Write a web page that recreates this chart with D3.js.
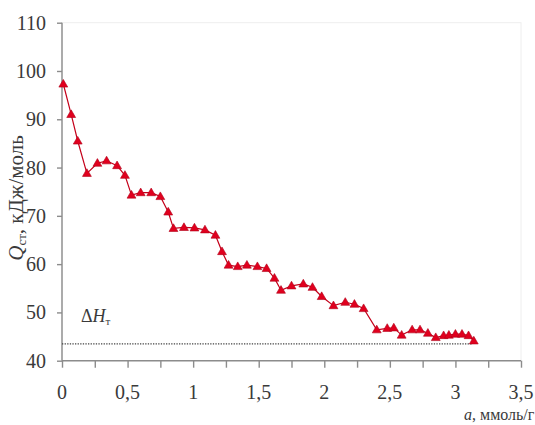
<!DOCTYPE html>
<html><head><meta charset="utf-8">
<script src="https://cdn.jsdelivr.net/npm/d3@7"></script>
<style>body{margin:0;background:#fff}svg{display:block}</style>
</head><body>
<svg id="c" width="535" height="425"></svg>
<script>
const aVals = [0.01,0.07,0.12,0.19,0.27,0.34,0.42,0.48,0.53,0.60,0.68,0.75,0.81,0.85,0.93,1.01,1.09,1.17,1.22,1.27,1.34,1.41,1.49,1.56,1.62,1.67,1.75,1.84,1.91,1.98,2.07,2.16,2.23,2.30,2.40,2.48,2.53,2.59,2.67,2.73,2.79,2.85,2.91,2.95,3.00,3.05,3.10,3.14];
const qVals = [97.3,91.0,85.5,78.8,80.9,81.4,80.4,78.4,74.3,74.8,74.8,74.0,70.8,67.4,67.6,67.5,67.1,66.0,62.6,59.8,59.5,59.8,59.5,59.1,57.1,54.6,55.5,55.9,55.2,53.3,51.4,52.1,51.7,50.8,46.4,46.7,46.8,45.3,46.4,46.4,45.7,44.8,45.2,45.3,45.5,45.5,45.2,44.1];
const xTicks = [0,0.25,0.5,0.75,1,1.25,1.5,1.75,2,2.25,2.5,2.75,3,3.25,3.5];
const xLabels = [0,0.5,1,1.5,2,2.5,3,3.5];
const yTicks = [40,50,60,70,80,90,100,110];
const dH = 43.5;
const dHRange = [0, 3.13];

const svg = d3.select("#c");
const L = 62, R = 521, T = 22.7, B = 360.7;
const x = d3.scaleLinear().domain([0,3.5]).range([L,R]);
const y = d3.scaleLinear().domain([40,110]).range([B,T]);
const fmt = d => String(d).replace(".", ",");
const axisCol = "#8c8c8c", txtCol = "#3a3a3a";
const serif = "Liberation Serif, DejaVu Serif, serif";

svg.append("rect").attr("x",L).attr("y",T).attr("width",R-L).attr("height",B-T)
  .attr("fill","none").attr("stroke","#eeeeee").attr("stroke-width",1);

const gx = svg.append("g").attr("transform",`translate(0,${B})`)
  .call(d3.axisBottom(x).tickValues(xTicks).tickSize(7).tickFormat(""));
gx.selectAll("path,line").attr("stroke",axisCol).attr("stroke-width",1.4);
gx.select(".domain").attr("d",`M${L},0H${R}`);
svg.append("g").selectAll("text").data(xLabels).join("text")
  .attr("x",d=>x(d)).attr("y",399).attr("text-anchor","middle")
  .style("font-family",serif).attr("font-size",20).attr("fill",txtCol).text(fmt);

const gy = svg.append("g").attr("transform",`translate(${L},0)`)
  .call(d3.axisLeft(y).tickValues(yTicks).tickSize(5).tickFormat(""));
gy.selectAll("path,line").attr("stroke",axisCol).attr("stroke-width",1.4);
gy.select(".domain").attr("d",`M0,${T}V${B}`);
svg.append("g").selectAll("text").data(yTicks).join("text")
  .attr("x",46).attr("y",d=>y(d)).attr("dy","0.35em").attr("text-anchor","end")
  .style("font-family",serif).attr("font-size",20).attr("fill",txtCol).text(d=>d);

svg.append("line").attr("x1",x(dHRange[0])).attr("x2",x(dHRange[1]))
  .attr("y1",y(dH)).attr("y2",y(dH))
  .attr("stroke","#444").attr("stroke-width",1.3).attr("stroke-dasharray","1.3,1.3");
const dt = svg.append("text").attr("x",81).attr("y",322)
  .style("font-family",serif).attr("font-size",18).attr("fill",txtCol);
dt.append("tspan").text("Δ");
dt.append("tspan").attr("font-style","italic").text("H");
dt.append("tspan").attr("font-size",11).attr("dy",3).text("т");

const pts = aVals.map((a,i)=>[a,qVals[i]]);
svg.append("path").datum(pts)
  .attr("d",d3.line().x(d=>x(d[0])).y(d=>y(d[1])))
  .attr("fill","none").attr("stroke","#c4001a").attr("stroke-width",1.2);
svg.append("g").selectAll("path").data(pts).join("path")
  .attr("transform",d=>`translate(${x(d[0])},${y(d[1])+0.5})`)
  .attr("d",d3.symbol().type(d3.symbolTriangle).size(34))
  .attr("fill","#e0001e").attr("stroke","#b0001a").attr("stroke-width",0.6);

const yt = svg.append("text").attr("transform","translate(23,198) rotate(-90)")
  .attr("text-anchor","middle").style("font-family",serif).attr("font-size",21).attr("fill",txtCol);
yt.append("tspan").attr("font-style","italic").text("Q");
yt.append("tspan").attr("font-size",13).attr("dy",3).text("ст");
yt.append("tspan").attr("dy",-3).text(", кДж/моль");

const xt = svg.append("text").attr("x",464).attr("y",420)
  .style("font-family",serif).attr("font-size",16).attr("fill",txtCol);
xt.append("tspan").attr("font-style","italic").text("a");
xt.append("tspan").text(", ммоль/г");
</script>
</body></html>
